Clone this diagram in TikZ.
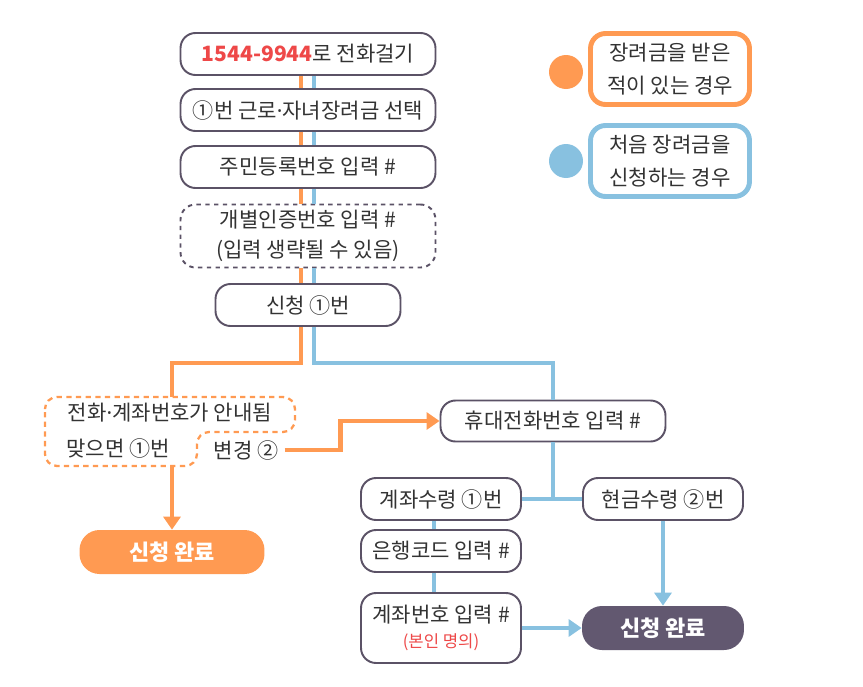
\documentclass[tikz,border=0pt]{standalone}
\usepackage{fontspec}
\setmainfont{Noto Sans CJK KR}
\newfontfamily\latinfont{Noto Sans}
\usetikzlibrary{arrows.meta, positioning}

\definecolor{orangec}{HTML}{FF9A52}
\definecolor{bluec}{HTML}{88C1E0}
\definecolor{edgec}{HTML}{5B5266}
\definecolor{donec}{HTML}{625870}
\definecolor{redc}{HTML}{EE4848}
\definecolor{inkc}{HTML}{333333}

\newcommand{\mdot}{{\latinfont\textperiodcentered}}

\begin{document}
\begin{tikzpicture}[
  x=0.02cm, y=-0.02cm,
  font=\fontsize{12}{17}\selectfont, text=inkc,
  box/.style={draw=edgec, line width=1.1pt, rounded corners=0.3cm, fill=white,
              minimum width=5.1cm, minimum height=0.84cm, align=center, inner sep=0pt},
  dbox/.style={box, dashed, dash pattern=on 2.5pt off 2.5pt},
  donebox/.style={rounded corners=0.4cm, minimum height=0.88cm, text=white,
                  font=\fontsize{12.5}{14}\selectfont\bfseries},
  legbox/.style={line width=2.8pt, rounded corners=0.3cm, fill=white, align=center,
                 minimum width=3.18cm, minimum height=1.42cm, font=\fontsize{12}{18.5}\selectfont},
  dot/.style={circle, minimum size=0.68cm, inner sep=0pt},
  oline/.style={draw=orangec, line width=2.8pt},
  bline/.style={draw=bluec, line width=2.8pt},
  oarr/.style={oline, -{Triangle[length=0.26cm, width=0.34cm]}},
  barr/.style={bline, -{Triangle[length=0.26cm, width=0.34cm]}}
]
\useasboundingbox (0,0) rectangle (863,687);

% main column
\node[box] (call)  at (308,54)  {{\bfseries\color{redc}1544-9944}로 전화걸기};
\node[box] (menu)  at (308,110) {①번 근로\mdot 자녀장려금 선택};
\node[box] (ssn)   at (308,167) {주민등록번호 입력 \#};
\node[dbox, minimum height=1.26cm] (auth) at (308,236) {개별인증번호 입력 \#\\(입력 생략될 수 있음)};
\node[box, minimum width=3.7cm] (apply) at (308,305) {신청 ①번};

\foreach \a/\b in {call/menu, menu/ssn, ssn/auth, auth/apply} {
  \draw[oline] ([xshift=-0.14cm]\a.south) -- ([xshift=-0.14cm]\b.north);
  \draw[bline] ([xshift=0.12cm]\a.south) -- ([xshift=0.12cm]\b.north);
}

% orange branch
\node (guide1) at (170,413) {전화\mdot 계좌번호가 안내됨};
\node (guide2) at (118,448) {맞으면 ①번};
\node (change) at (246,450) {변경 ②};
\coordinate (gtop) at (172,397);
\coordinate (gbot) at (172,466);
\draw[orangec, line width=1.3pt, dashed, dash pattern=on 3pt off 2.5pt, rounded corners=0.24cm]
  (45,420) |- (295,397) |- (197,432) |- (45,466) -- cycle;
\node[donebox, fill=orangec, minimum width=3.7cm] (done1) at (172,552) {신청 완료};

\draw[oline] ([xshift=-0.14cm]apply.south) -- ++(0,36) -| (gtop);
\draw[oarr] (gbot) -- (done1.north);

% blue branch
\node[box, minimum width=4.5cm, minimum height=0.82cm] (phone) at (553,421) {휴대전화번호 입력 \#};
\node[box, minimum width=3.2cm] (acct) at (441,499) {계좌수령 ①번};
\node[box, minimum width=3.2cm] (cash) at (663,499) {현금수령 ②번};
\node[box, minimum width=3.2cm] (bank) at (441,551) {은행코드 입력 \#};
\node[box, minimum width=3.2cm, minimum height=1.4cm] (accno) at (441,628)
  {계좌번호 입력 \#\\[-3pt]{\fontsize{9.5}{11}\selectfont\color{redc}(본인 명의)}};
\node[donebox, fill=donec, minimum width=3.24cm] (done2) at (663,628) {신청 완료};

\draw[bline] ([xshift=0.12cm]apply.south) -- ++(0,36) -| (phone.north);
\draw[oarr] (change.east) -- ++(56,0) |- (phone.west);
\draw[bline] (phone.south) -- (phone.south |- acct.east);
\draw[bline] (acct.east) -- (cash.west);
\draw[bline] ([xshift=-0.14cm]acct.south) -- ([xshift=-0.14cm]bank.north);
\draw[bline] ([xshift=-0.14cm]bank.south) -- ([xshift=-0.14cm]accno.north);
\draw[barr] (cash.south) -- (done2.north);
\draw[barr] (accno.east) -- (done2.west);

% legend
\node[dot, fill=orangec] (lgo) at (566,72) {};
\node[legbox, draw=orangec] (lego) at (670,69) {장려금을 받은\\적이 있는 경우};
\node[dot, fill=bluec] (lgb) at (566,161) {};
\node[legbox, draw=bluec] (legb) at (670,161) {처음 장려금을\\신청하는 경우};
\end{tikzpicture}
\end{document}
